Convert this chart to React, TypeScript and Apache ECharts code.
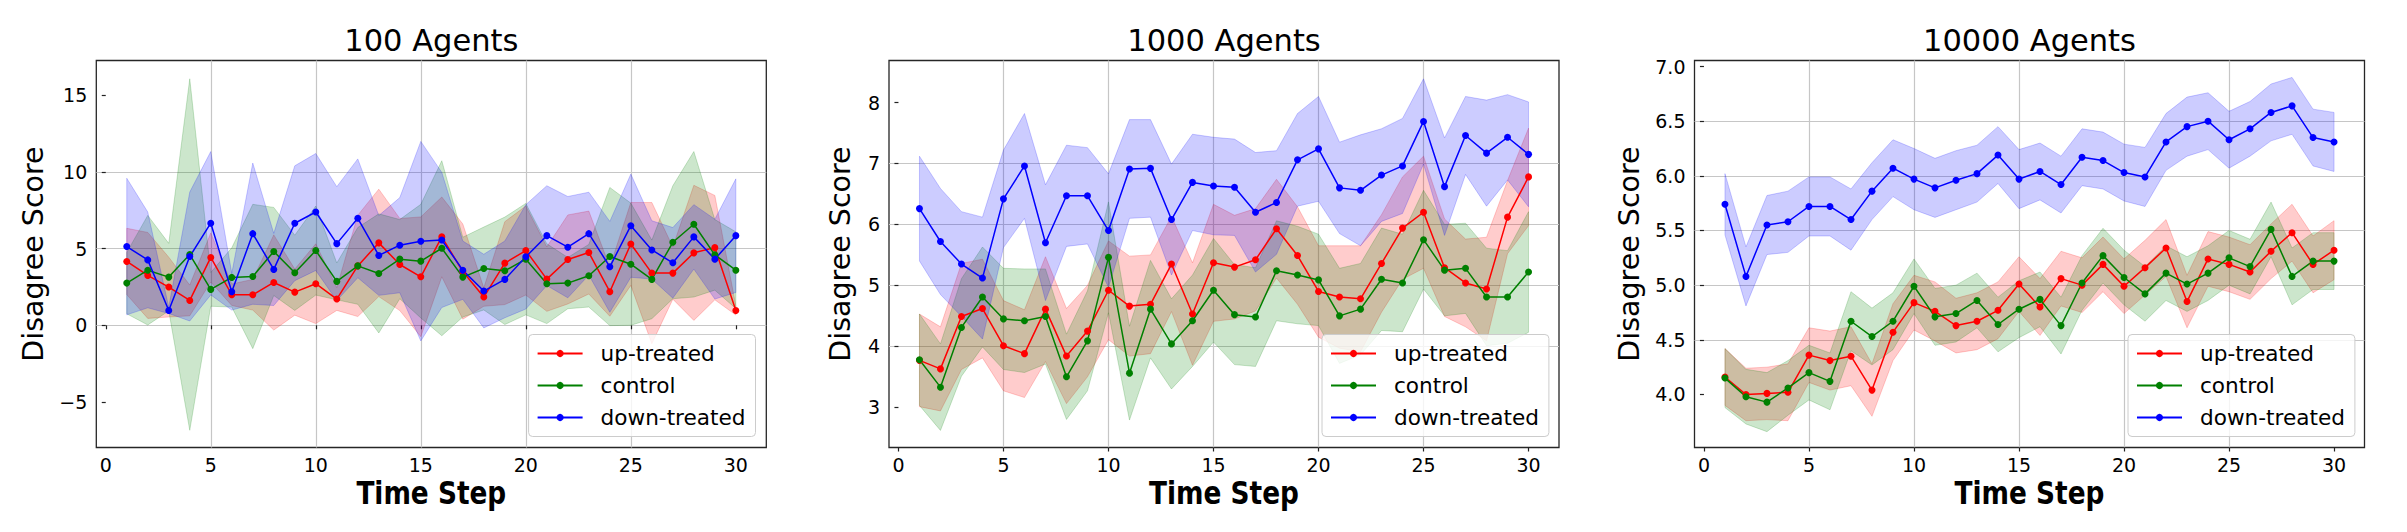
import React, { useEffect, useRef } from "react";
import * as echarts from "echarts";

// ---------------- data ----------------
const steps = [1, 2, 3, 4, 5, 6, 7, 8, 9, 10, 11, 12, 13, 14, 15, 16, 17, 18, 19, 20, 21, 22, 23, 24, 25, 26, 27, 28, 29, 30];
const seriesNames = ["up-treated", "control", "down-treated"];
const panelTitles = ["100 Agents", "1000 Agents", "10000 Agents"];
const xAxisTitle = "Time Step";
const yAxisTitle = "Disagree Score";

const xTicks = [0, 5, 10, 15, 20, 25, 30];
const yTicks100 = [-5, 0, 5, 10, 15];
const yTicks1000 = [3, 4, 5, 6, 7, 8];
const yTicks10000 = [4.0, 4.5, 5.0, 5.5, 6.0, 6.5, 7.0];

// 100 agents
const up100 = [4.16, 3.25, 2.49, 1.62, 4.42, 1.99, 1.99, 2.79, 2.16, 2.71, 1.71, 3.87, 5.37, 3.96, 3.16, 5.76, 3.5, 1.84, 4.05, 4.87, 3.01, 4.29, 4.74, 2.19, 5.3, 3.4, 3.4, 4.72, 5.06, 0.97];
const upSd100 = [2.16, 2.8, 1.95, 1.0, 1.6, 0.7, 1.0, 3.1, 1.5, 2.6, 0.74, 3.3, 3.5, 3.0, 3.9, 2.6, 3.1, 0.6, 2.7, 2.9, 2.1, 2.9, 2.7, 1.6, 2.7, 4.6, 1.7, 4.4, 3.4, 0.3];
const ctrl100 = [2.75, 3.59, 3.14, 4.61, 2.34, 3.12, 3.18, 4.81, 3.42, 4.87, 2.86, 3.87, 3.38, 4.31, 4.18, 5.02, 3.14, 3.7, 3.55, 4.31, 2.71, 2.75, 3.23, 4.48, 3.98, 2.99, 5.41, 6.58, 4.59, 3.59];
const ctrlSd100 = [2.0, 3.57, 2.2, 11.45, 1.1, 1.93, 4.7, 2.87, 2.45, 2.9, 1.2, 2.5, 3.88, 2.58, 3.7, 5.7, 2.6, 2.7, 3.5, 3.63, 2.6, 1.67, 2.04, 4.5, 3.98, 2.56, 3.68, 4.74, 2.3, 2.5];
const down100 = [5.13, 4.26, 0.97, 4.48, 6.65, 2.19, 5.97, 3.64, 6.65, 7.38, 5.32, 6.97, 4.55, 5.22, 5.48, 5.56, 3.59, 2.23, 2.99, 4.46, 5.84, 5.09, 5.97, 3.81, 6.49, 4.91, 4.07, 5.76, 4.31, 5.84];
const downSd100 = [4.45, 3.12, 0.2, 4.2, 4.67, 1.2, 4.6, 2.35, 3.74, 3.81, 3.71, 3.87, 2.6, 3.1, 6.5, 4.4, 1.9, 2.4, 2.5, 3.4, 3.25, 3.3, 2.7, 2.96, 3.36, 1.9, 2.3, 2.1, 2.6, 3.7];

// 1000 agents
const up1000 = [3.77, 3.63, 4.49, 4.62, 4.01, 3.88, 4.61, 3.84, 4.25, 4.92, 4.66, 4.69, 5.35, 4.53, 5.37, 5.3, 5.42, 5.93, 5.49, 4.9, 4.81, 4.78, 5.36, 5.94, 6.2, 5.29, 5.04, 4.94, 6.12, 6.78];
const upSd1000 = [0.76, 0.69, 0.87, 0.81, 0.74, 0.72, 0.86, 0.78, 0.75, 0.81, 0.82, 0.81, 0.78, 0.84, 0.96, 0.85, 0.84, 0.81, 0.8, 0.75, 0.84, 0.87, 0.8, 0.84, 0.92, 0.8, 0.72, 0.85, 0.6, 0.8];
const ctrl1000 = [3.78, 3.33, 4.31, 4.81, 4.45, 4.42, 4.49, 3.5, 4.09, 5.46, 3.56, 4.61, 4.04, 4.42, 4.92, 4.52, 4.48, 5.24, 5.17, 5.09, 4.5, 4.61, 5.1, 5.04, 5.75, 5.25, 5.28, 4.81, 4.81, 5.22];
const ctrlSd1000 = [0.75, 0.71, 0.8, 0.82, 0.83, 0.85, 0.78, 0.7, 0.82, 0.91, 0.77, 0.8, 0.74, 0.75, 0.85, 0.82, 0.81, 0.82, 0.8, 0.75, 0.78, 0.75, 0.84, 0.8, 0.81, 0.75, 0.74, 0.8, 0.76, 0.99];
const down1000 = [6.26, 5.72, 5.35, 5.12, 6.42, 6.96, 5.7, 6.47, 6.47, 5.9, 6.91, 6.92, 6.08, 6.69, 6.63, 6.61, 6.2, 6.36, 7.06, 7.24, 6.6, 6.56, 6.81, 6.96, 7.69, 6.62, 7.46, 7.17, 7.43, 7.15];
const downSd1000 = [0.86, 0.87, 0.86, 1.0, 0.8, 0.86, 0.95, 0.83, 0.79, 0.93, 0.81, 0.8, 0.91, 0.79, 0.8, 0.79, 0.98, 0.85, 0.76, 0.86, 0.75, 0.91, 0.76, 0.78, 0.7, 0.8, 0.64, 0.87, 0.7, 0.86];

// 10000 agents
const up10000 = [4.16, 4.0, 4.01, 4.02, 4.36, 4.31, 4.35, 4.04, 4.57, 4.84, 4.76, 4.63, 4.67, 4.77, 5.01, 4.8, 5.06, 5.0, 5.19, 4.99, 5.16, 5.34, 4.85, 5.24, 5.19, 5.12, 5.31, 5.48, 5.19, 5.32];
const upSd10000 = [0.26, 0.24, 0.24, 0.26, 0.25, 0.27, 0.27, 0.24, 0.26, 0.25, 0.27, 0.25, 0.26, 0.26, 0.25, 0.26, 0.25, 0.25, 0.25, 0.25, 0.25, 0.26, 0.24, 0.25, 0.25, 0.25, 0.25, 0.26, 0.26, 0.27];
const ctrl10000 = [4.15, 3.98, 3.93, 4.06, 4.2, 4.12, 4.67, 4.53, 4.67, 4.99, 4.71, 4.74, 4.86, 4.64, 4.78, 4.87, 4.63, 5.02, 5.27, 5.07, 4.92, 5.11, 5.01, 5.11, 5.25, 5.17, 5.51, 5.08, 5.22, 5.22];
const ctrlSd10000 = [0.27, 0.25, 0.27, 0.25, 0.25, 0.26, 0.27, 0.26, 0.26, 0.25, 0.26, 0.26, 0.25, 0.25, 0.26, 0.25, 0.26, 0.25, 0.25, 0.25, 0.25, 0.25, 0.25, 0.25, 0.25, 0.25, 0.25, 0.26, 0.26, 0.26];
const down10000 = [5.74, 5.08, 5.55, 5.58, 5.72, 5.72, 5.6, 5.86, 6.07, 5.97, 5.89, 5.96, 6.02, 6.19, 5.97, 6.04, 5.92, 6.17, 6.14, 6.03, 5.99, 6.31, 6.45, 6.5, 6.33, 6.43, 6.58, 6.64, 6.35, 6.31];
const downSd10000 = [0.28, 0.27, 0.27, 0.28, 0.27, 0.27, 0.28, 0.26, 0.26, 0.28, 0.27, 0.27, 0.26, 0.26, 0.27, 0.26, 0.26, 0.26, 0.26, 0.26, 0.27, 0.26, 0.27, 0.26, 0.26, 0.25, 0.26, 0.26, 0.26, 0.27];

// ---------------- styling / layout ----------------
const lineColors = ["#ff0000", "#008000", "#0000ff"];
const bandColors = ["rgba(255,0,0,0.2)", "rgba(0,128,0,0.2)", "rgba(0,0,255,0.2)"];
const FONT = "DejaVu Sans";

const gridLefts = [96.3, 889, 1694.5];
const gridTop = 60.5;
const gridWidth = 670;
const gridHeight = 387;
const legendLefts = [528.6, 1322, 2128];
const legendTop = 334.5;
const yLabelX = [33.6, 840.8, 1629.3];

const panels = [
  { title: panelTitles[0], means: [up100, ctrl100, down100], sds: [upSd100, ctrlSd100, downSd100], yMin: -7.96, yMax: 17.25, yTicks: yTicks100, yStep: 5, dec: 0 },
  { title: panelTitles[1], means: [up1000, ctrl1000, down1000], sds: [upSd1000, ctrlSd1000, downSd1000], yMin: 2.34, yMax: 8.69, yTicks: yTicks1000, yStep: 1, dec: 0 },
  { title: panelTitles[2], means: [up10000, ctrl10000, down10000], sds: [upSd10000, ctrlSd10000, downSd10000], yMin: 3.515, yMax: 7.055, yTicks: yTicks10000, yStep: 0.5, dec: 1 },
];

function tickFormatter(ticks: number[], dec: number) {
  return (v: number) => {
    const hit = ticks.find((t) => Math.abs(t - v) < 1e-6);
    if (hit === undefined) return "";
    const s = Math.abs(hit).toFixed(dec);
    return hit < 0 ? "\u2212" + s : s;
  };
}

function buildOption() {
  const grid: any[] = [];
  const xAxis: any[] = [];
  const yAxis: any[] = [];
  const series: any[] = [];
  const legend: any[] = [];
  const graphic: any[] = [];

  const splitLine = { show: true, showMinLine: false, showMaxLine: false, lineStyle: { color: "#c6c6c6", width: 1.2 } };
  const axisTickStyle = { color: "#222", width: 1.2 };

  panels.forEach((p, i) => {
    grid.push({ left: gridLefts[i], top: gridTop, width: gridWidth, height: gridHeight, show: true, borderColor: "#262626", borderWidth: 1.3, backgroundColor: "transparent" });
    xAxis.push({
      type: "value", gridIndex: i, min: -0.45, max: 31.45, minInterval: 5, maxInterval: 5,
      axisLine: { show: false },
      axisTick: { show: true, length: 4, inside: false, lineStyle: axisTickStyle, customValues: xTicks },
      axisLabel: { customValues: xTicks, formatter: tickFormatter(xTicks, 0), fontSize: 19, fontFamily: FONT, color: "#000", margin: 8 },
      splitLine,
    });
    yAxis.push({
      type: "value", gridIndex: i, min: p.yMin, max: p.yMax, minInterval: p.yStep, maxInterval: p.yStep,
      axisLine: { show: false },
      axisTick: { show: true, length: 4, inside: false, lineStyle: axisTickStyle, customValues: p.yTicks },
      axisLabel: { customValues: p.yTicks, formatter: tickFormatter(p.yTicks, p.dec), fontSize: 19, fontFamily: FONT, color: "#000", margin: 9 },
      splitLine,
    });

    // bands (mean ± sd)
    p.means.forEach((mean, k) => {
      const sd = p.sds[k];
      const rows = steps.map((s, j) => [s, mean[j] - sd[j], mean[j] + sd[j]]);
      series.push({
        type: "custom", xAxisIndex: i, yAxisIndex: i, silent: true, z: 1, clip: true,
        data: rows, encode: { x: 0, y: [1, 2] },
        renderItem: (params: any, api: any) => {
          if (params.dataIndex !== 0) return null;
          const upper = rows.map((r) => api.coord([r[0], r[2]]));
          const lower = rows.map((r) => api.coord([r[0], r[1]])).reverse();
          return { type: "polygon", shape: { points: upper.concat(lower) }, style: { fill: bandColors[k], stroke: bandColors[k], lineWidth: 1 } };
        },
      });
    });
    // mean lines
    p.means.forEach((mean, k) => {
      series.push({
        type: "line", name: seriesNames[k], xAxisIndex: i, yAxisIndex: i, z: 3,
        data: steps.map((s, j) => [s, mean[j]]),
        symbol: "circle", symbolSize: 7, showSymbol: true,
        lineStyle: { color: lineColors[k], width: 1.5 },
        itemStyle: { color: lineColors[k] },
      });
    });

    legend.push({
      orient: "vertical", left: legendLefts[i], top: legendTop, data: seriesNames, selectedMode: false,
      itemWidth: 45, itemHeight: 9, itemGap: 10, padding: [8, 10, 8, 8],
      backgroundColor: "rgba(255,255,255,0.8)", borderColor: "#cccccc", borderWidth: 1, borderRadius: 4,
      textStyle: { fontSize: 21.6, fontFamily: FONT, color: "#000", lineHeight: 22, padding: [0, 0, 0, 13] },
    });

    const cx = gridLefts[i] + gridWidth / 2;
    graphic.push({ type: "text", x: cx, y: 40.3, silent: true, style: { text: p.title, font: `30.5px '${FONT}'`, fill: "#000", textAlign: "center", textVerticalAlign: "middle" } });
    graphic.push({ type: "text", x: cx, y: 492.9, scaleX: 0.824, silent: true, style: { text: xAxisTitle, font: `bold 32px '${FONT}'`, fill: "#000", textAlign: "center", textVerticalAlign: "middle" } });
    graphic.push({ type: "text", x: yLabelX[i], y: gridTop + gridHeight / 2, rotation: Math.PI / 2, silent: true, style: { text: yAxisTitle, font: `28.5px '${FONT}'`, fill: "#000", textAlign: "center", textVerticalAlign: "middle" } });
  });

  return { animation: false, backgroundColor: "#ffffff", textStyle: { fontFamily: FONT }, grid, xAxis, yAxis, series, legend, graphic };
}

export default function App() {
  const ref = useRef<HTMLDivElement>(null);
  useEffect(() => {
    if (!ref.current) return;
    const chart = echarts.init(ref.current, undefined, { renderer: "svg" });
    chart.setOption(buildOption() as any);
    return () => chart.dispose();
  }, []);
  return <div ref={ref} style={{ position: "fixed", left: 0, top: 0, width: "2407px", height: "532px" }} />;
}
